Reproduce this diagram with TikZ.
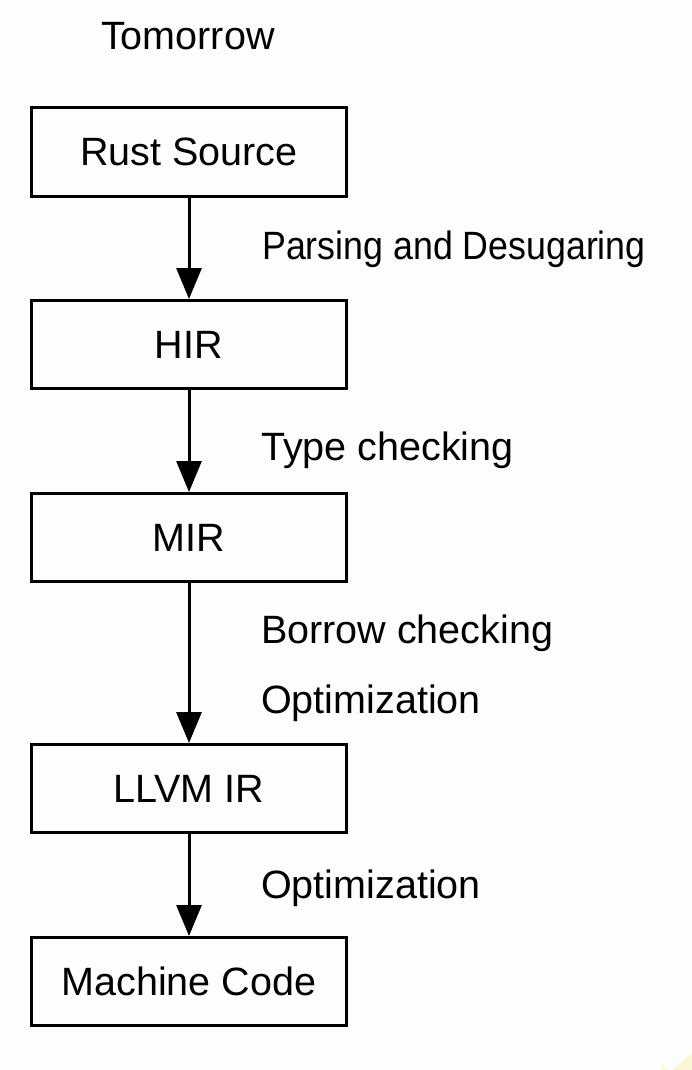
\documentclass[tikz,border=0pt]{standalone}
\usepackage{fontspec}
\setmainfont{Liberation Sans}
\usetikzlibrary{arrows.meta}
\definecolor{bgc}{RGB}{253,253,253}
\definecolor{tagc}{RGB}{251,246,214}
\begin{document}
\begin{tikzpicture}[x=1pt,y=-1pt,
  stagebox/.style={draw=black,line width=3pt,minimum width=315pt,minimum height=88pt,inner sep=0pt,
    font=\fontsize{39.5pt}{46pt}\selectfont},
  lbl/.style={anchor=base west,inner sep=0pt,font=\fontsize{39.5pt}{46pt}\selectfont},
  flow/.style={line width=3pt,-{Triangle[length=31pt,width=25pt]}}]
\fill[bgc] (0,0) rectangle (692,1070);
\useasboundingbox (0,0) rectangle (692,1070);
\fill[tagc] (662,1070) -- (662,1062) arc[start angle=180,end angle=270,radius=9pt] -- (692,1053) -- (692,1070) -- cycle;

\node[lbl] (title) at (101,50) {Tomorrow};

\node[stagebox] (rust) at (189,152) {Rust Source};
\node[stagebox] (hir) at (189,344.5) {HIR};
\node[stagebox] (mir) at (189,537.5) {MIR};
\node[stagebox] (llvm) at (189,788.5) {LLVM IR};
\node[stagebox] (mc) at (189,981.5) {Machine Code};

\draw[flow] (rust) -- (hir);
\draw[flow] (hir) -- (mir);
\draw[flow] (mir) -- (llvm);
\draw[flow] (llvm) -- (mc);

\node[lbl] (l1) at (262,259) {\scalebox{0.905}[1]{Parsing and Desugaring}};
\node[lbl] (l2) at (261,460) {Type checking};
\node[lbl] (l3) at (261,643) {Borrow checking};
\node[lbl] (l4) at (261,713) {Optimization};
\node[lbl] (l5) at (261,898) {Optimization};
\end{tikzpicture}
\end{document}
